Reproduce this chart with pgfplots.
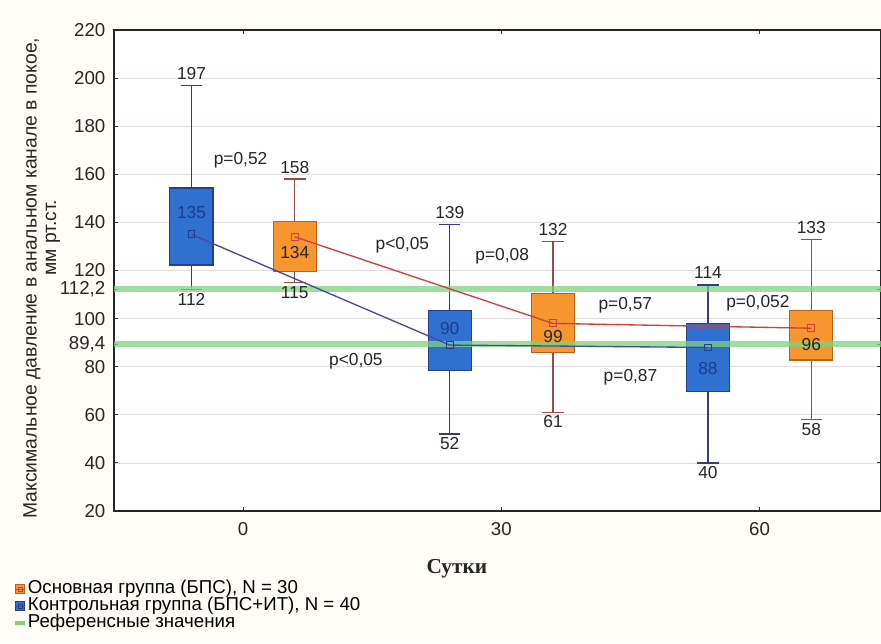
\documentclass[border=0pt]{standalone}
\usepackage{pgfplots}
\pgfplotsset{compat=1.18}
\usepgfplotslibrary{statistics}
\usepackage{fontspec}
\setmainfont{Liberation Sans}
\newfontfamily\serifb{Liberation Serif}
\definecolor{bgcream}{HTML}{FFFDF7}
\definecolor{bluebox}{HTML}{3070D0}
\definecolor{bluebord}{HTML}{22408F}
\definecolor{bluewhisk}{HTML}{3A3A80}
\definecolor{orangebox}{HTML}{F7962F}
\definecolor{orangebord}{HTML}{B8621A}
\definecolor{orangewhisk}{HTML}{9A4A4A}
\definecolor{meanred}{HTML}{CC4040}
\definecolor{meanblue}{HTML}{4848A0}
\definecolor{refgreen}{HTML}{7FD37F}
\definecolor{gridcol}{HTML}{E6DCDC}
\definecolor{bluetext}{HTML}{1C3C8C}
\begin{document}
\begin{tikzpicture}
\fill[bgcream] (-85.5pt,-99pt) rectangle (575.25pt,383.25pt);
\begin{axis}[
  at={(0pt,0pt)}, anchor=south west,
  scale only axis, width=575.25pt, height=360.75pt,
  xmin=-15, xmax=74.1, ymin=20, ymax=220,
  xtick={0,30,60}, ytick={20,40,...,220},
  extra y ticks={89.4,112.2},
  extra y tick labels={{89,4},{112,2}},
  extra y tick style={grid=none},
  ymajorgrids=true,
  major grid style={draw=gridcol, line width=0.6pt},
  axis background/.style={fill=white},
  axis line style={line width=1pt, draw=black!85},
  tick style={draw=black!80, line width=0.8pt},
  major tick length=3pt,
  tick label style={font=\fontsize{14}{16}\selectfont, text=black!85},
  yticklabel style={xshift=-3pt},
  xticklabel style={yshift=-5pt},
  /pgf/number format/assume math mode=true,
  boxplot/draw direction=y,
  clip=false,
  legend cell align=left,
  legend style={at={(axis description cs:-0.1317,-0.1441)}, anchor=north west,
    draw=none, fill=none, font=\fontsize{14}{15}\selectfont, row sep=0pt, inner sep=0pt,
    nodes={inner sep=1pt, text height=8.75pt, text depth=2pt}},
]
% boxes
\addplot[forget plot, boxplot prepared={draw position=-6, lower whisker=112, lower quartile=122.3, median=135, upper quartile=154.3, upper whisker=197, box extend=5, whisker extend=2.5},
  draw=bluebord, fill=bluebox, line width=0.8pt,
  boxplot/every whisker/.style={draw=bluewhisk, line width=1pt},
  boxplot/every median/.style={draw=none}] coordinates {};
\addplot[forget plot, boxplot prepared={draw position=6, lower whisker=115, lower quartile=119.5, median=134, upper quartile=140.2, upper whisker=158, box extend=5, whisker extend=2.5},
  draw=orangebord, fill=orangebox, line width=0.8pt,
  boxplot/every whisker/.style={draw=orangewhisk, line width=1pt},
  boxplot/every median/.style={draw=none}] coordinates {};
\addplot[forget plot, boxplot prepared={draw position=24, lower whisker=52, lower quartile=78.6, median=90, upper quartile=103.3, upper whisker=139, box extend=5, whisker extend=2.5},
  draw=bluebord, fill=bluebox, line width=0.8pt,
  boxplot/every whisker/.style={draw=bluewhisk, line width=1pt},
  boxplot/every median/.style={draw=none}] coordinates {};
\addplot[forget plot, boxplot prepared={draw position=36, lower whisker=61, lower quartile=85.8, median=99, upper quartile=110.5, upper whisker=132, box extend=5, whisker extend=2.5},
  draw=orangebord, fill=orangebox, line width=0.8pt,
  boxplot/every whisker/.style={draw=orangewhisk, line width=1pt},
  boxplot/every median/.style={draw=none}] coordinates {};
\addplot[forget plot, boxplot prepared={draw position=54, lower whisker=40, lower quartile=69.6, median=88, upper quartile=98, upper whisker=114, box extend=5, whisker extend=2.5},
  draw=bluebord, fill=bluebox, line width=0.8pt,
  boxplot/every whisker/.style={draw=bluewhisk, line width=1pt},
  boxplot/every median/.style={draw=none}] coordinates {};
\addplot[forget plot, boxplot prepared={draw position=66, lower whisker=58, lower quartile=82.8, median=96, upper quartile=103.3, upper whisker=133, box extend=5, whisker extend=2.5},
  draw=orangebord, fill=orangebox, line width=0.8pt,
  boxplot/every whisker/.style={draw=orangewhisk, line width=1pt},
  boxplot/every median/.style={draw=none}] coordinates {};
% reference lines
\addplot[forget plot, refgreen, line width=4.5pt, opacity=0.75] coordinates {(-15,112.2) (74.1,112.2)};
\addplot[forget plot, refgreen, line width=4.5pt, opacity=0.75] coordinates {(-15,89.4) (74.1,89.4)};
% mean lines
\addplot[forget plot, meanblue, line width=1pt, mark=square, mark size=2.6pt, mark options={solid, draw=bluebord, fill=none, line width=0.7pt}] coordinates {(-6,135) (24,89) (54,88)};
\addplot[forget plot, meanred, line width=1pt, mark=square, mark size=2.6pt, mark options={solid, draw=meanred, fill=none, line width=0.7pt}] coordinates {(6,134) (36,98) (66,96)};
% legend
\addlegendimage{legend image code/.code={\draw[fill=orangebox, draw=orangebord] (0pt,-3.5pt) rectangle (7pt,3.5pt); \draw[meanred, line width=0.7pt] (0pt,0pt)--(7pt,0pt); \draw[meanred, line width=0.6pt] (2pt,-1.5pt) rectangle (5pt,1.5pt);}}
\addlegendentry{Основная группа (БПС), N = 30}
\addlegendimage{legend image code/.code={\draw[fill=bluebox, draw=bluebord] (0pt,-3.5pt) rectangle (7pt,3.5pt); \draw[meanblue, line width=0.7pt] (0pt,0pt)--(7pt,0pt); \draw[bluebord, line width=0.6pt] (2pt,-1.5pt) rectangle (5pt,1.5pt);}}
\addlegendentry{Контрольная группа (БПС+ИТ), N = 40}
\addlegendimage{legend image code/.code={\draw[refgreen, line width=3pt] (0pt,0pt)--(7pt,0pt);}}
\addlegendentry{Референсные значения}
% value labels
\begin{scope}[every node/.style={font=\fontsize{13}{15}\selectfont, text=black!85}]
\node at (axis cs:-6,202) {197};
\node at (axis cs:-6,108) {112};
\node at (axis cs:6,163) {158};
\node at (axis cs:6,111) {115};
\node at (axis cs:24,144) {139};
\node at (axis cs:24,48) {52};
\node at (axis cs:36,137) {132};
\node at (axis cs:36,57) {61};
\node at (axis cs:54,119) {114};
\node at (axis cs:54,36) {40};
\node at (axis cs:66,138) {133};
\node at (axis cs:66,54) {58};
\node at (axis cs:6,127.3) {134};
\node at (axis cs:36,92.5) {99};
\node at (axis cs:66,89.3) {96};
\node[text=bluetext] at (axis cs:-6,144) {135};
\node[text=bluetext] at (axis cs:24,96) {90};
\node[text=bluetext] at (axis cs:54,79.3) {88};
\node at (axis cs:-0.3,166) {p=0,52};
\node at (axis cs:18.5,130.6) {p<0,05};
\node at (axis cs:30.1,126) {p=0,08};
\node at (axis cs:13.1,82.1) {p<0,05};
\node at (axis cs:44.4,105.7) {p=0,57};
\node at (axis cs:59.8,106.5) {p=0,052};
\node at (axis cs:45,75.8) {p=0,87};
\end{scope}
% axis titles
\node[rotate=90, font=\fontsize{14.5}{16}\selectfont, text=black!85] at ([xshift=-61.5pt]axis description cs:0,0.484) {Максимальное давление в анальном канале в покое,};
\node[rotate=90, font=\fontsize{14.5}{16}\selectfont, text=black!85] at ([xshift=-45.75pt]axis description cs:0,0.568) {мм рт.ст.};
\node[font=\serifb\bfseries\fontsize{16}{18}\selectfont, text=black!85] at ([yshift=-43pt]axis description cs:0.447,0) {Сутки};
\end{axis}
\pgfresetboundingbox
\useasboundingbox (-85.5pt,-99pt) rectangle (575.25pt,383.25pt);
\end{tikzpicture}
\end{document}
